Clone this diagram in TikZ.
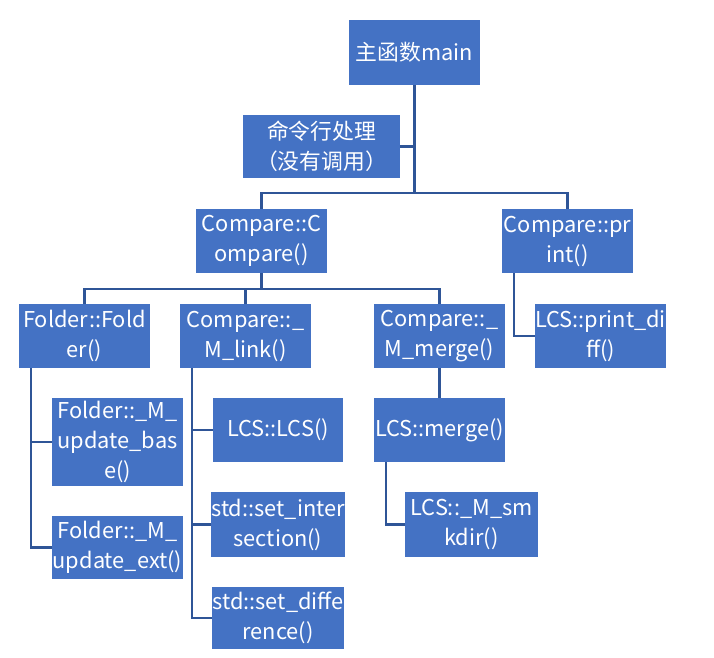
\documentclass[tikz,border=0pt]{standalone}
\usepackage{fontspec}
\setmainfont{Noto Sans CJK SC}
\usetikzlibrary{calc}
\definecolor{boxblue}{HTML}{4472C4}
\definecolor{lineblue}{HTML}{2F5597}
\tikzset{
  fn/.style={fill=boxblue, text=white, inner sep=0, align=center,
    minimum width=131, minimum height=64, font=\fontsize{21.8}{30}\selectfont},
  link/.style={lineblue, line width=2.2pt},
}

\begin{document}
\begin{tikzpicture}[x=1pt,y=-1pt]
\useasboundingbox (0,0) rectangle (714,657);
% boxes
\node[fn, minimum height=65] (main) at (414.5,52.5) {主函数main};
\node[fn, minimum width=157, minimum height=63] (cmd) at (321.5,146.5) {命令行处理\\（没有调用）};
\node[fn] (cmp) at (261.5,241) {Compare::C\\ompare()};
\node[fn] (prt) at (567.5,241) {Compare::pr\\int()};
\node[fn] (fld) at (84.5,336) {Folder::Fold\\er()};
\node[fn] (lnk) at (245.5,336) {Compare::\_\\M\_link()};
\node[fn] (mrg) at (439.5,336) {Compare::\_\\M\_merge()};
\node[fn] (pdf) at (600.5,336) {LCS::print\_di\\ff()};
\node[fn, minimum height=88] (upb) at (117.5,442) {Folder::\_M\_\\update\_bas\\e()};
\node[fn, minimum height=63] (upe) at (117.5,547.5) {Folder::\_M\_\\update\_ext()};
\node[fn, minimum width=130] (lcs) at (278,430) {LCS::LCS()};
\node[fn, minimum width=130, minimum height=65] (sint) at (278,524.5) {std::set\_inter\\section()};
\node[fn, minimum width=130, minimum height=62] (sdif) at (278,618) {std::set\_diffe\\rence()};
\node[fn] (lmg) at (439.5,430) {LCS::merge()};
\node[fn, minimum width=133, minimum height=65] (smk) at (471.5,524.5) {LCS::\_M\_sm\\kdir()};
% connectors
\coordinate (bar1) at (0,193);
\coordinate (bar2) at (0,289);
\draw[link] (main.south) -- (main.south |- bar1) -| (cmp.north);
\draw[link] (main.south |- bar1) -| (prt.north);
\draw[link] (cmd.east) -- (cmd.east -| main.south);
\foreach \n in {fld,lnk,mrg} {
  \draw[link] (cmp.south) -- (cmp.south |- bar2) -| (\n.north);
}
\foreach \n in {upb,upe} {
  \draw[link] ([xshift=12]fld.south west) |- (\n.west);
}
\foreach \n in {lcs,sint,sdif} {
  \draw[link] ([xshift=12]lnk.south west) |- (\n.west);
}
\draw[link] (mrg.south) -- (lmg.north);
\draw[link] ([xshift=12]lmg.south west) |- (smk.west);
\draw[link] ([xshift=12]prt.south west) |- (pdf.west);
\end{tikzpicture}
\end{document}
